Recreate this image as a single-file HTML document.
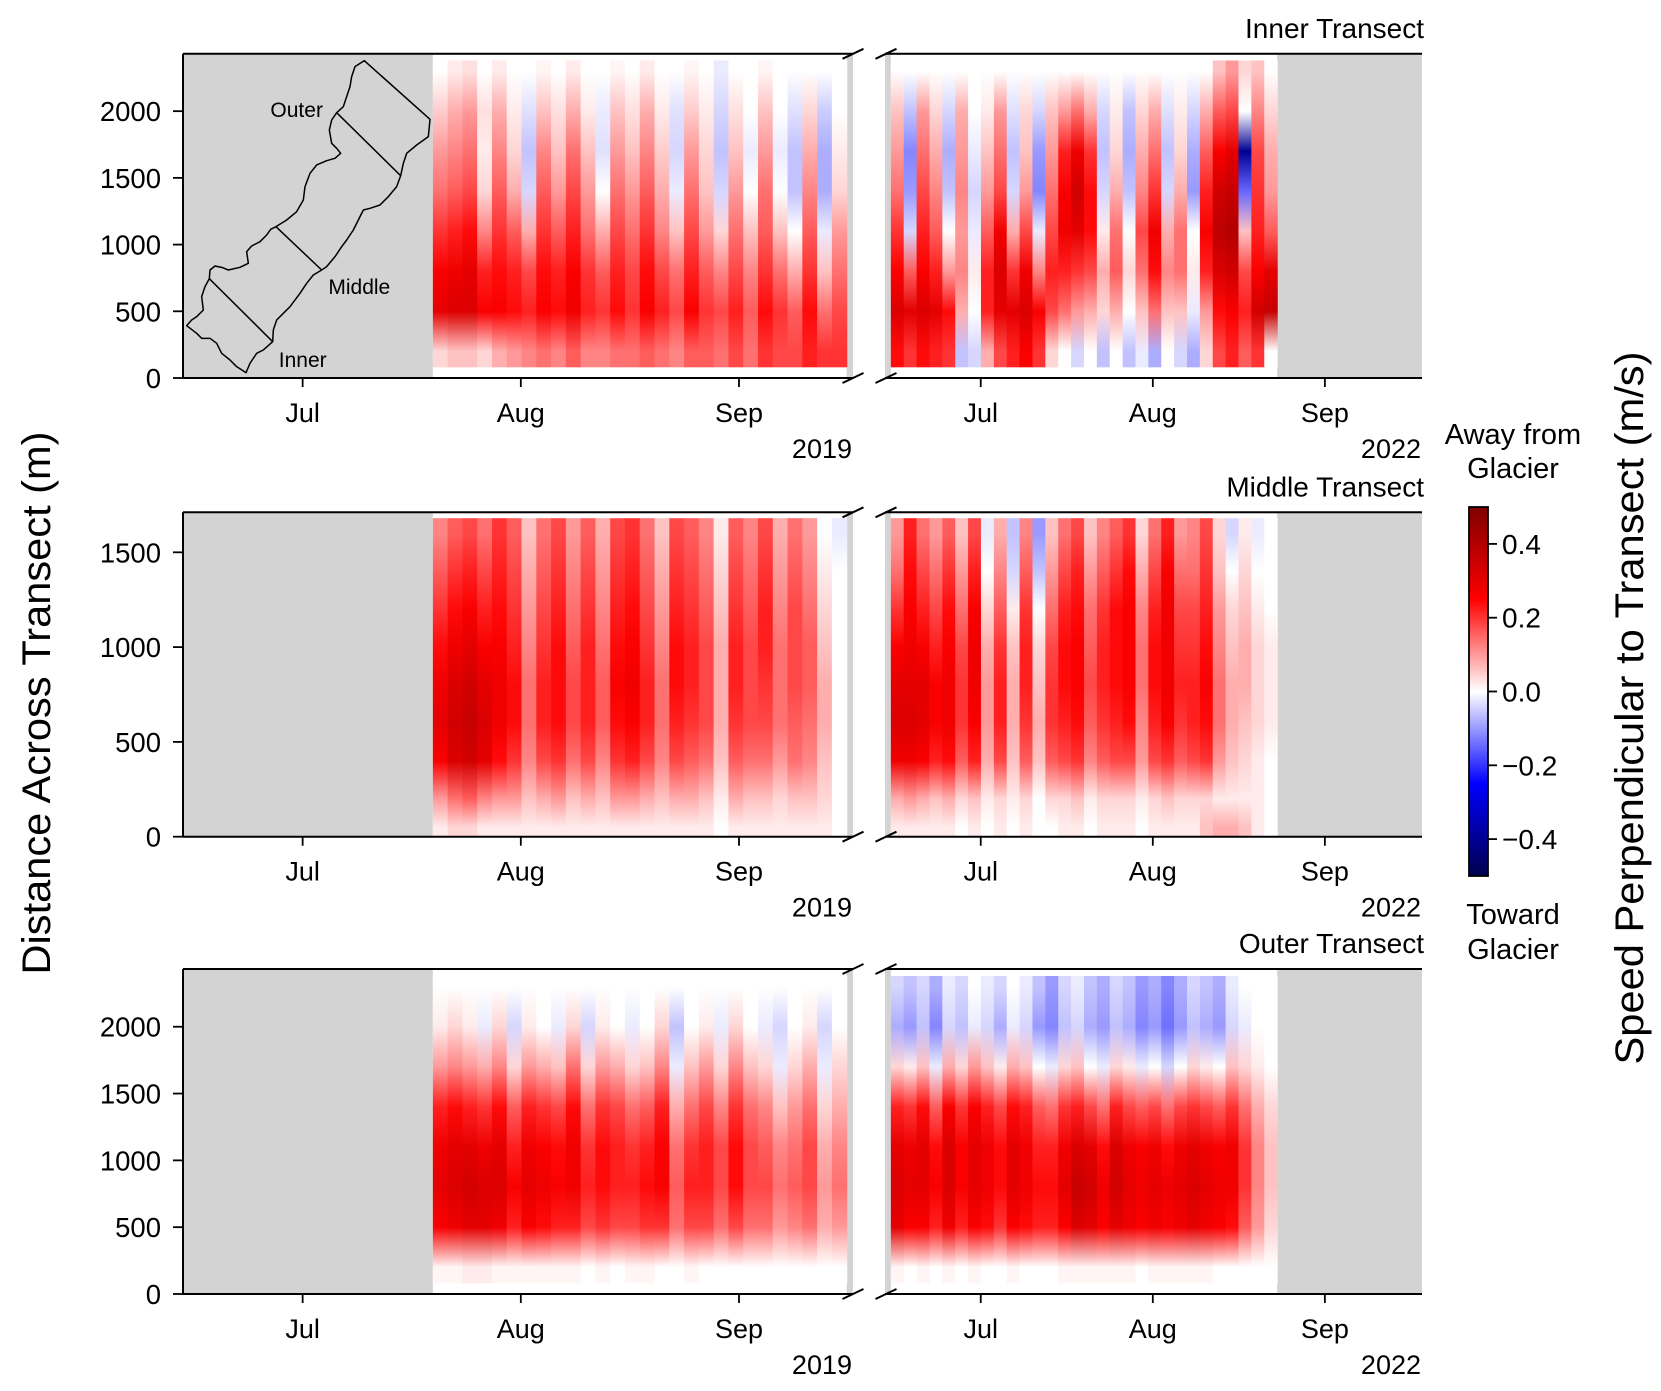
<!DOCTYPE html>
<html><head><meta charset="utf-8"><style>
html,body{margin:0;padding:0;background:#fff}
svg{display:block;font-family:"Liberation Sans",Arial,sans-serif}
</style></head><body>
<svg id="fig" width="1661" height="1391" viewBox="0 0 1661 1391" xmlns="http://www.w3.org/2000/svg">
<defs id="defs"></defs>
</svg>
<script>
// ---------- data (values in hundredths of m/s) ----------
const monthTicks = [0, 31, 62];            // days since Jul 1
const monthLabels = ["Jul", "Aug", "Sep"];
const years = ["2019", "2022"];
const titles = ["Inner Transect", "Middle Transect", "Outer Transect"];
const rowYMax = [2430, 1711, 2432];
const rowYTicks = [[0,500,1000,1500,2000],[0,500,1000,1500],[0,500,1000,1500,2000]];
const binsDeep = [2300, 2000, 1700, 1400, 1100, 800, 500, 200];
const binsMid = [1600, 1400, 1200, 1000, 800, 600, 400, 200, 50];
const dataSpan2019 = [18.5, 77.3];
const dataSpan2022 = [-16.2, 53.4];
const cbTicks = [-0.4, -0.2, 0.0, 0.2, 0.4];
const cbTickLabels = ["\u22120.4", "\u22120.2", "0.0", "0.2", "0.4"];

const inner2019 = [
[0,2,3,0,2,0,0,1,0,2,0,0,1,0,2,0,0,1,0,-2,0,0,1,0,0,0,0,0],
[5,8,10,3,8,2,-3,6,3,8,2,-2,6,3,8,2,-3,5,2,-4,3,0,6,0,-3,4,-5,0],
[10,12,14,2,12,4,-6,12,6,14,6,-3,10,6,12,5,-4,10,4,-6,6,-2,10,-2,-6,8,-8,2],
[14,16,18,4,16,8,-4,16,10,18,10,0,14,10,16,8,-2,14,6,-4,10,0,14,0,-6,12,-8,4],
[20,22,24,12,20,16,8,20,16,22,14,8,18,14,20,12,6,18,10,4,14,6,16,6,0,16,-2,10],
[26,28,30,22,24,22,18,24,22,26,20,16,22,18,24,18,14,22,16,12,18,12,20,14,8,20,6,14],
[30,32,32,26,26,24,22,26,24,28,22,20,24,20,26,22,18,26,20,18,22,16,24,20,16,24,14,18],
[4,6,6,4,8,10,12,14,12,16,12,12,14,14,16,14,12,16,16,14,18,14,20,18,18,22,20,20]];
const inner2022 = [
[0,0,0,0,0,0,0,0,0,0,0,0,0,0,0,0,0,0,0,0,0,0,0,0,0,6,10,4,6,0],
[6,-6,10,4,-4,8,0,2,10,-3,4,-4,6,10,14,8,-4,2,-6,4,8,-3,2,-4,8,16,18,0,12,4],
[10,-12,14,8,-8,10,-2,6,14,-6,6,-10,10,22,28,20,-6,4,-8,8,14,-6,4,-8,16,26,30,-40,18,8],
[14,-10,18,12,-6,12,-4,10,18,-4,10,-12,14,26,34,24,-4,8,-6,12,20,-4,8,-10,22,34,36,-15,20,10],
[20,-4,22,16,0,10,-2,16,28,8,18,-2,18,28,30,24,2,14,0,18,28,8,14,0,26,38,40,6,22,16],
[26,16,26,22,10,12,2,22,32,20,28,12,22,22,20,18,8,16,4,14,24,12,14,2,22,32,34,18,26,30],
[32,30,32,30,24,8,0,22,30,30,32,26,18,14,10,8,4,8,0,6,14,6,6,-2,10,24,26,22,34,36],
[24,20,24,22,20,-6,-4,8,18,22,26,20,4,0,-4,0,-6,0,-6,-2,-8,0,-4,-8,4,18,22,16,20,0]];
const middle2019 = [
[12,16,18,14,20,16,6,14,18,10,16,8,18,20,14,6,18,16,12,2,16,12,18,8,14,10,0,-2],
[16,20,22,18,22,18,8,16,20,12,18,10,20,22,16,8,20,18,14,4,18,14,20,10,16,12,2,0],
[20,24,26,22,24,20,10,18,22,14,20,12,22,24,18,10,22,20,16,6,20,16,22,12,18,14,4,0],
[24,28,30,26,26,22,12,20,24,16,22,14,24,26,20,12,24,22,18,8,22,18,22,14,18,16,6,0],
[28,32,34,30,28,24,14,22,24,18,22,16,26,28,22,14,24,22,18,8,22,18,20,14,18,16,8,0],
[30,34,36,32,28,24,14,22,24,18,22,16,24,26,22,14,22,20,18,8,20,18,18,14,16,14,8,0],
[26,32,34,30,24,20,12,18,20,14,18,12,20,22,18,12,18,16,14,6,16,14,14,10,14,12,6,0],
[10,14,16,12,10,10,6,8,10,6,8,6,10,10,8,6,8,8,6,2,8,6,6,4,6,6,4,0],
[2,4,4,2,2,2,2,2,2,2,2,2,2,2,2,2,2,2,2,0,2,2,2,2,2,2,2,0]];
const middle2022 = [
[10,22,14,10,16,6,18,-2,8,-6,12,-10,6,14,18,6,12,16,20,4,14,22,10,12,18,4,-4,2,-2,0],
[14,24,18,14,20,10,22,0,12,-4,16,-6,10,18,22,10,16,20,24,8,18,26,14,14,20,6,0,4,0,0],
[20,26,22,18,24,14,26,4,16,2,20,0,14,22,24,14,20,24,26,12,22,28,18,18,22,10,4,6,2,0],
[26,28,26,22,26,18,28,8,20,6,22,4,18,24,26,16,22,24,26,14,24,28,20,20,24,12,6,8,4,2],
[30,30,30,26,28,20,28,10,22,8,22,6,20,24,26,18,22,24,26,14,24,28,22,22,26,14,8,8,4,2],
[32,32,30,26,28,20,26,10,22,8,20,8,20,22,24,16,20,22,24,12,22,26,20,22,24,14,8,6,4,2],
[28,28,26,22,24,16,22,8,18,6,16,6,16,18,20,12,16,18,18,10,18,20,16,18,20,10,6,4,2,0],
[8,10,8,6,8,4,6,2,4,2,4,0,4,4,6,2,4,4,4,2,4,6,4,4,4,2,2,2,2,0],
[2,2,2,2,2,0,2,0,2,0,2,0,0,2,2,0,2,2,2,0,2,2,2,2,6,8,8,6,2,0]];
const outer2019 = [
[0,0,0,0,0,0,0,0,0,0,0,0,0,0,0,0,0,0,0,0,0,0,0,0,0,0,0,0],
[2,4,2,-2,4,-4,2,0,-2,4,-4,2,0,-2,0,4,-6,0,2,-2,4,0,-2,-4,0,2,-4,0],
[10,12,10,8,12,4,10,8,6,14,4,10,8,4,6,12,-2,6,10,4,12,6,4,-2,4,8,-2,4],
[22,24,22,20,24,16,22,20,18,24,14,20,18,14,16,22,8,14,18,12,20,14,12,6,10,14,4,8],
[28,30,30,28,30,22,28,26,24,28,20,24,22,20,22,26,14,20,22,18,24,18,16,12,14,18,8,12],
[30,32,34,32,32,26,30,28,26,28,22,24,22,22,24,26,16,22,22,18,24,18,18,14,16,18,10,14],
[26,28,30,30,28,22,26,24,22,22,18,20,18,18,20,20,14,18,18,14,18,14,14,10,12,14,8,10],
[1,1,2,2,1,1,1,1,1,1,0,1,0,1,1,0,0,1,0,0,0,0,0,0,0,0,0,0]];
const outer2022 = [
[-4,-6,-4,-8,-2,-4,0,-2,-4,0,-2,-6,-10,-4,-2,-6,-8,-4,-6,-10,-8,-12,-8,-4,-6,-8,-2,0,0,0],
[-8,-10,-6,-12,-4,-6,-2,-4,-8,-2,-4,-10,-12,-6,-4,-8,-10,-6,-8,-12,-10,-14,-10,-6,-8,-10,-4,-2,0,0],
[4,2,6,-2,8,4,10,6,2,8,6,0,-2,4,6,0,-2,4,2,-2,0,-4,0,4,2,0,6,4,2,0],
[22,20,24,16,26,20,26,22,18,24,22,16,14,20,22,18,14,22,18,16,18,14,18,20,18,16,20,14,8,4],
[30,28,30,24,32,26,30,28,24,30,28,22,22,28,32,30,24,32,28,26,28,24,28,30,28,26,28,20,12,6],
[32,30,30,26,32,26,30,28,24,30,28,24,24,30,36,34,28,34,30,28,30,28,30,32,30,28,28,20,12,6],
[30,26,26,22,28,22,26,24,20,26,24,22,22,26,32,30,26,30,28,26,28,26,28,30,28,26,24,16,10,4],
[1,0,1,0,1,0,1,0,0,1,0,0,0,1,1,1,1,1,1,0,1,1,1,1,1,0,0,0,0,0]];

// ---------- layout ----------
const NS = "http://www.w3.org/2000/svg";
const svg = document.getElementById("fig");
const defs = document.getElementById("defs");
function el(tag, attrs, parent) {
  const e = document.createElementNS(NS, tag);
  for (const k in attrs) e.setAttribute(k, attrs[k]);
  (parent || svg).appendChild(e);
  return e;
}
function txt(str, attrs, parent) {
  const t = el("text", attrs, parent);
  t.textContent = str;
  return t;
}
function seismic(v) {
  let t = Math.max(0, Math.min(1, v + 0.5));
  function interp(pts) {
    for (let i = 0; i < pts.length - 1; i++) {
      if (t <= pts[i+1][0]) {
        const f = (t - pts[i][0]) / (pts[i+1][0] - pts[i][0]);
        return pts[i][1] + f * (pts[i+1][1] - pts[i][1]);
      }
    }
    return pts[pts.length-1][1];
  }
  const r = interp([[0,0],[0.25,0],[0.5,1],[0.75,1],[1,0.5]]);
  const g = interp([[0,0],[0.25,0],[0.5,1],[0.75,0],[1,0]]);
  const b = interp([[0,0.3],[0.25,1],[0.5,1],[0.75,0],[1,0]]);
  return "rgb(" + Math.round(r*255) + "," + Math.round(g*255) + "," + Math.round(b*255) + ")";
}

const rowTop = [53.8, 512.3, 969];
const rowBot = [378, 836.7, 1294];
const panelX = [[183, 853], [885, 1422]];
const panelDays = [[-17.0, 78.2], [-17.25, 79.5]];
const spans = [dataSpan2019, dataSpan2022];
const dataBottom = [80, 0, 80];
const grids = [[inner2019, inner2022], [middle2019, middle2022], [outer2019, outer2022]];
const rowBins = [binsDeep, binsMid, binsDeep];
const rowNames = ["inner", "middle", "outer"];
let gid = 0;

for (let r = 0; r < 3; r++) {
  const y0 = rowTop[r], y1 = rowBot[r], ymax = rowYMax[r];
  const ys = d => y1 - d / ymax * (y1 - y0);
  for (let p = 0; p < 2; p++) {
    const [px0, px1] = panelX[p];
    const [d0, d1] = panelDays[p];
    const xs = d => px0 + (d - d0) / (d1 - d0) * (px1 - px0);
    const g = el("g", {});
    
    
    const bg = el("rect", {x: px0, y: y0, width: px1 - px0, height: y1 - y0, fill: "#d3d3d3"}, g);
    
    
    const [s0, s1] = spans[p];
    const wb = el("rect", {x: xs(s0), y: y0 + 1, width: xs(s1) - xs(s0), height: y1 - y0 - 1, fill: "#fff"}, g);
    
    
    const grid = grids[r][p];
    const bins = rowBins[r];
    const ncol = grid[0].length;
    const cw = (s1 - s0) / ncol;
    const topD = bins[0] + 80 > ymax ? ymax - 30 : bins[0] + 80;
    for (let c = 0; c < ncol; c++) {
      const id = "g" + (gid++);
      const yTop = ys(topD), yBot = ys(dataBottom[r]);
      const lg = el("linearGradient", {id: id, gradientUnits: "userSpaceOnUse", x1: 0, x2: 0, y1: yTop, y2: yBot}, defs);
      for (let b = 0; b < bins.length; b++) {
        const off = (ys(bins[b]) - yTop) / (yBot - yTop);
        el("stop", {offset: Math.max(0, Math.min(1, off)), "stop-color": seismic(grid[b][c] / 100)}, lg);
      }
      const xa = xs(s0 + c * cw), xb = xs(s0 + (c + 1) * cw);
      const cell = el("rect", {x: xa, y: yTop, width: xb - xa + 0.6, height: yBot - yTop, fill: "url(#" + id + ")"}, g);
      
      
    }
    el("line", {x1: px0, x2: px1, y1: y0, y2: y0, stroke: "#000", "stroke-width": 2}, g);
    el("line", {x1: px0, x2: px1, y1: y1, y2: y1, stroke: "#000", "stroke-width": 2}, g);
    if (p === 0) el("line", {x1: px0, x2: px0, y1: y0, y2: y1, stroke: "#000", "stroke-width": 2}, g);
    const bx = p === 0 ? px1 : px0 + 1;
    [y0, y1].forEach(yy => {
      const bm = el("line", {x1: bx - 10.5, y1: yy + 5, x2: bx + 10.5, y2: yy - 5, stroke: "#000", "stroke-width": 2}, g);
      
      
    });
    for (let i = 0; i < monthTicks.length; i++) {
      const x = xs(monthTicks[i]);
      el("line", {x1: x, x2: x, y1: y1, y2: y1 + 9, stroke: "#000", "stroke-width": 1.8}, g);
      const tl = txt(monthLabels[i], {x: x, y: y1 + 44, "text-anchor": "middle", "font-size": 27}, g);
      
      
    }
    const yl = txt(years[p], {x: px1 - 1, y: y1 + 80, "text-anchor": "end", "font-size": 27}, g);
    
    
    if (p === 0) {
      rowYTicks[r].forEach(v => {
        const y = ys(v);
        el("line", {x1: px0 - 10, x2: px0, y1: y, y2: y, stroke: "#000", "stroke-width": 1.8}, g);
        const t = txt(String(v), {x: px0 - 22, y: y + 10, "text-anchor": "end", "font-size": 27.5}, g);
        
        
      });
    }
  }
  const tt = txt(titles[r], {x: 1424, y: rowTop[r] - 16, "text-anchor": "end", "font-size": 28});
  
  
}

// ---------- map inset ----------
const mapG = el("g", {transform: "translate(150,30) scale(0.33333)", fill: "none", stroke: "#000", "stroke-width": 4.5, "stroke-linejoin": "round"});


const outline = "643,92 840,268 835,320 800,345 770,370 760,400 752,437 740,470 715,500 690,525 660,535 640,540 625,570 610,600 590,630 575,650 555,680 530,710 515,720 490,735 470,760 450,790 420,830 400,850 380,870 370,900 368,935 340,960 320,970 300,1000 288,1028 260,1010 240,990 215,970 200,940 180,925 155,925 140,910 110,887 125,870 140,860 160,840 155,800 165,770 178,746 180,720 195,708 215,712 235,720 270,712 295,700 290,665 305,648 330,635 350,615 362,598 378,590 410,570 440,545 460,510 465,470 480,430 500,405 530,392 555,385 572,370 560,355 545,340 538,300 545,270 560,248 580,230 590,200 600,170 605,140 615,110 643,92";
el("polygon", {points: outline}, mapG);
el("line", {x1: 560, y1: 248, x2: 752, y2: 437}, mapG);
el("line", {x1: 378, y1: 590, x2: 515, y2: 720}, mapG);
el("line", {x1: 178, y1: 746, x2: 368, y2: 935}, mapG);
[["Outer", 296.7, 117], ["Middle", 359.3, 294], ["Inner", 302.7, 367]].forEach(m => {
  const t = txt(m[0], {x: m[1], y: m[2], "text-anchor": "middle", "font-size": 21});
  
  
});

// ---------- colorbar ----------
const cbX = 1469, cbW = 19, cbTop = 507, cbBot = 876;
const cbg = el("linearGradient", {id: "cbgrad", x1: 0, x2: 0, y1: 1, y2: 0}, defs);
for (let i = 0; i <= 20; i++) {
  el("stop", {offset: i / 20, "stop-color": seismic(-0.5 + i / 20)}, cbg);
}
const cb = el("rect", {x: cbX, y: cbTop, width: cbW, height: cbBot - cbTop, fill: "url(#cbgrad)", stroke: "#000", "stroke-width": 1.8});


const cbY = v => cbBot - (v + 0.5) * (cbBot - cbTop);
cbTicks.forEach((v, i) => {
  el("line", {x1: cbX + cbW, x2: cbX + cbW + 9, y1: cbY(v), y2: cbY(v), stroke: "#000", "stroke-width": 1.8});
  const t = txt(cbTickLabels[i], {x: cbX + cbW + 14, y: cbY(v) + 10, "font-size": 28});
  
  
});
[["Away from", 444], ["Glacier", 478], ["Toward", 924], ["Glacier", 959]].forEach(a => {
  const t = txt(a[0], {x: 1513, y: a[1], "text-anchor": "middle", "font-size": 29});
  
  
});

// ---------- axis titles ----------
const yt = txt("Distance Across Transect (m)", {x: 0, y: 0, "text-anchor": "middle", "font-size": 40, textLength: 543, lengthAdjust: "spacingAndGlyphs", transform: "translate(50,703) rotate(-90)"});


const ct = txt("Speed Perpendicular to Transect (m/s)", {x: 0, y: 0, "text-anchor": "middle", "font-size": 40, textLength: 713, lengthAdjust: "spacingAndGlyphs", transform: "translate(1643,708) rotate(-90)"});


</script>
</body></html>
